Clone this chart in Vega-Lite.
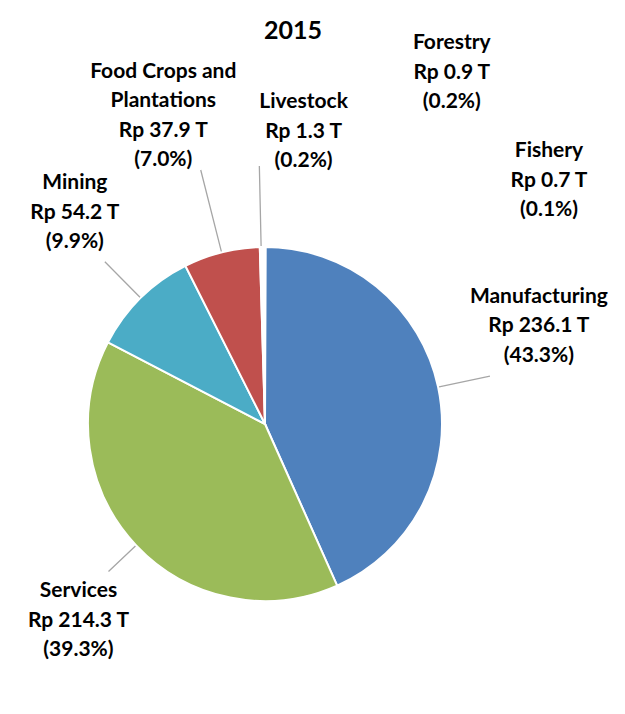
{
  "$schema": "https://vega.github.io/schema/vega-lite/v6.json",
  "autosize": "none",
  "width": 530,
  "height": 580,
  "padding": {"left": 0, "top": 134, "right": 95, "bottom": 0},
  "background": "white",
  "config": {"view": {"stroke": null}},
  "title": {"text": "2015", "font": "Lato", "fontSize": 25, "fontWeight": "bold", "color": "#000000", "anchor": "middle", "frame": "group", "dx": 28, "dy": 12, "offset": 0},
  "data": {"values": [
    {"sector": "Manufacturing", "value": 236.1, "order": 1, "lines": ["Manufacturing", "Rp 236.1 T", "(43.3%)"]},
    {"sector": "Services", "value": 214.3, "order": 2, "lines": ["Services", "Rp 214.3 T", "(39.3%)"]},
    {"sector": "Mining", "value": 54.2, "order": 3, "lines": ["Mining", "Rp 54.2 T", "(9.9%)"]},
    {"sector": "Food Crops and Plantations", "value": 37.9, "order": 4, "lines": ["Food Crops and", "Plantations", "Rp 37.9 T", "(7.0%)"]},
    {"sector": "Livestock", "value": 1.3, "order": 5, "lines": ["Livestock", "Rp 1.3 T", "(0.2%)"]},
    {"sector": "Forestry", "value": 0.9, "order": 6, "lines": ["Forestry", "Rp 0.9 T", "(0.2%)"]},
    {"sector": "Fishery", "value": 0.7, "order": 7, "lines": ["Fishery", "Rp 0.7 T", "(0.1%)"]}
  ]},
  "transform": [
    {"stack": "value", "groupby": [], "sort": [{"field": "order", "order": "ascending"}], "as": ["v0", "v1"]},
    {"calculate": "(datum.v0 + datum.v1) / 2", "as": "vmid"}
  ],
  "layer": [
    {
      "mark": {"type": "arc", "radius": 177, "stroke": "white", "strokeWidth": 2},
      "encoding": {
        "theta": {"field": "v0", "type": "quantitative"},
        "theta2": {"field": "v1"},
        "color": {"field": "sector", "type": "nominal", "legend": null,
          "scale": {"domain": ["Manufacturing", "Services", "Mining", "Food Crops and Plantations", "Livestock", "Forestry", "Fishery"],
                    "range": ["#4F81BD", "#9BBB59", "#4BACC6", "#C0504D", "#FFFFFF", "#FFFFFF", "#FFFFFF"]}}
      }
    },
    {
      "transform": [{"filter": "datum.sector == 'Manufacturing'"}],
      "mark": {"type": "arc", "radius": 230, "radius2": 178, "stroke": "#A6A6A6", "strokeWidth": 1.3, "fillOpacity": 0},
      "encoding": {"theta": {"field": "vmid", "type": "quantitative"}, "theta2": {"field": "vmid"}}
    },
    {
      "transform": [{"filter": "datum.sector == 'Services'"}],
      "mark": {"type": "arc", "radius": 215, "radius2": 178, "stroke": "#A6A6A6", "strokeWidth": 1.3, "fillOpacity": 0},
      "encoding": {"theta": {"field": "vmid", "type": "quantitative"}, "theta2": {"field": "vmid"}}
    },
    {
      "transform": [{"filter": "datum.sector == 'Mining'"}],
      "mark": {"type": "arc", "radius": 228, "radius2": 178, "stroke": "#A6A6A6", "strokeWidth": 1.3, "fillOpacity": 0},
      "encoding": {"theta": {"field": "vmid", "type": "quantitative"}, "theta2": {"field": "vmid"}}
    },
    {
      "transform": [{"filter": "datum.sector == 'Food Crops and Plantations'"}],
      "mark": {"type": "arc", "radius": 262, "radius2": 178, "stroke": "#A6A6A6", "strokeWidth": 1.3, "fillOpacity": 0},
      "encoding": {"theta": {"field": "vmid", "type": "quantitative"}, "theta2": {"field": "vmid"}}
    },
    {
      "transform": [{"filter": "datum.sector == 'Livestock'"}],
      "mark": {"type": "arc", "radius": 258, "radius2": 178, "stroke": "#A6A6A6", "strokeWidth": 1.3, "fillOpacity": 0},
      "encoding": {"theta": {"field": "vmid", "type": "quantitative"}, "theta2": {"field": "vmid"}}
    },
    {
      "transform": [{"filter": "datum.sector == 'Manufacturing'"}],
      "mark": {"type": "text", "radius": 280, "dx": 0, "dy": -69, "font": "Lato", "fontSize": 21, "fontWeight": "bold", "lineHeight": 29.5, "align": "center", "baseline": "middle", "color": "#000000"},
      "encoding": {"theta": {"field": "vmid", "type": "quantitative"}, "text": {"field": "lines"}}
    },
    {
      "transform": [{"filter": "datum.sector == 'Services'"}],
      "mark": {"type": "text", "radius": 270, "dx": 10, "dy": -18, "font": "Lato", "fontSize": 21, "fontWeight": "bold", "lineHeight": 29.5, "align": "center", "baseline": "middle", "color": "#000000"},
      "encoding": {"theta": {"field": "vmid", "type": "quantitative"}, "text": {"field": "lines"}}
    },
    {
      "transform": [{"filter": "datum.sector == 'Mining'"}],
      "mark": {"type": "text", "radius": 285, "dx": 10, "dy": -38, "font": "Lato", "fontSize": 21, "fontWeight": "bold", "lineHeight": 29.5, "align": "center", "baseline": "middle", "color": "#000000"},
      "encoding": {"theta": {"field": "vmid", "type": "quantitative"}, "text": {"field": "lines"}}
    },
    {
      "transform": [{"filter": "datum.sector == 'Food Crops and Plantations'"}],
      "mark": {"type": "text", "radius": 325, "dx": -22, "dy": -37, "font": "Lato", "fontSize": 21, "fontWeight": "bold", "lineHeight": 29.5, "align": "center", "baseline": "middle", "color": "#000000"},
      "encoding": {"theta": {"field": "vmid", "type": "quantitative"}, "text": {"field": "lines"}}
    },
    {
      "transform": [{"filter": "datum.sector == 'Livestock'"}],
      "mark": {"type": "text", "radius": 293, "dx": 45, "dy": -29, "font": "Lato", "fontSize": 21, "fontWeight": "bold", "lineHeight": 29.5, "align": "center", "baseline": "middle", "color": "#000000"},
      "encoding": {"theta": {"field": "vmid", "type": "quantitative"}, "text": {"field": "lines"}}
    },
    {
      "transform": [{"filter": "datum.sector == 'Forestry'"}],
      "mark": {"type": "text", "radius": 350, "dx": 190, "dy": -31, "font": "Lato", "fontSize": 21, "fontWeight": "bold", "lineHeight": 29.5, "align": "center", "baseline": "middle", "color": "#000000"},
      "encoding": {"theta": {"field": "vmid", "type": "quantitative"}, "text": {"field": "lines"}}
    },
    {
      "transform": [{"filter": "datum.sector == 'Fishery'"}],
      "mark": {"type": "text", "radius": 244, "dx": 284, "dy": -29, "font": "Lato", "fontSize": 21, "fontWeight": "bold", "lineHeight": 29.5, "align": "center", "baseline": "middle", "color": "#000000"},
      "encoding": {"theta": {"field": "vmid", "type": "quantitative"}, "text": {"field": "lines"}}
    }
  ]
}
